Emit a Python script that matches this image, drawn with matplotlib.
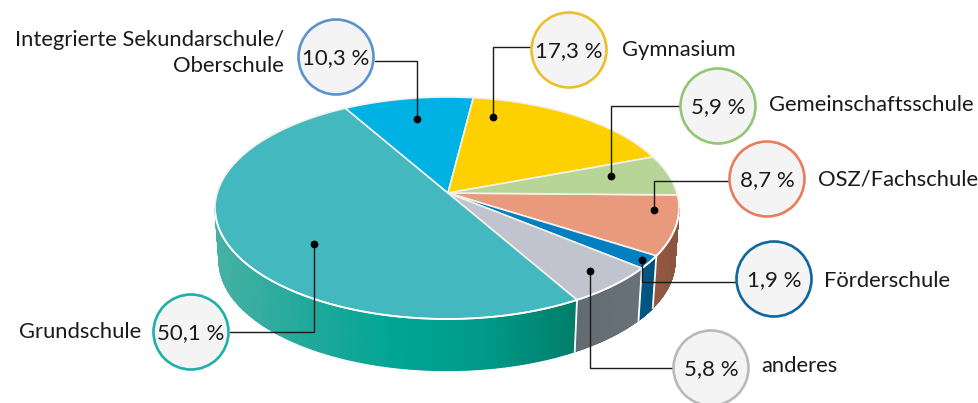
import numpy as np
import matplotlib
matplotlib.use("Agg")
import matplotlib.pyplot as plt
from matplotlib.colors import LinearSegmentedColormap
from matplotlib.patches import Circle, Polygon

plt.rcParams["font.family"] = ["Lato", "DejaVu Sans"]

# ── Data (clockwise on screen, starting at the Gemeinschaftsschule/OSZ edge) ──
categories = ["OSZ/Fachschule", "Förderschule", "anderes", "Grundschule",
              "Integrierte Sekundarschule/\nOberschule", "Gymnasium", "Gemeinschaftsschule"]
values = [8.7, 1.9, 5.8, 50.1, 10.3, 17.3, 5.9]
value_labels = ["8,7 %", "1,9 %", "5,8 %", "50,1 %", "10,3 %", "17,3 %", "5,9 %"]

top_colours = ["#ea9a7c", "#0080c2", "#c1c4cf", "#44b8bf", "#00b1e4", "#fdd000", "#b6d596"]
# side wall colours run left to right on screen
side_colours = [["#99593f", "#8b5442"], ["#005a85", "#00527a"], ["#626b72", "#6a7279"],
                ["#48b1a6", "#22a99b", "#00a595", "#009a88", "#007e6a"],
                ["#00b1e4"], ["#fdd000"], ["#b6d596"]]
ring_colours = ["#ea7b5b", "#0f66a0", "#b9b9b9", "#1fb0a8", "#5b94cc", "#e9c02c", "#93c572"]

# ── Layout, all in image pixels ───────────────────────────────────────────────
W, H = 979, 403
START = 1.0             # degrees
CX, CY, RX, RY = 447, 208, 232, 111   # top ellipse
BCX, BCY, BRX, BRY = 447, 261, 228, 109.6   # bottom ellipse
SHIFT = -0.135          # apex sits above the ellipse centre (perspective)
R_RING = 37.5
LABEL_SIZE = 15.8

# circle centre, label x, label y, label align, leader points
callouts = [
    ((767, 179), 818, 180, "left", [(729, 181), (654, 181), (654, 210)]),
    ((774, 279), 824, 281, "left", [(736, 282), (642, 282), (642, 260)]),
    ((711, 368), 761, 366, "left", [(673, 368), (590, 368), (590, 271)]),
    ((191, 332), 141, 332, "right", [(230, 332), (314, 332), (314, 244)]),
    ((336, 57), 284, 53, "right", [(375, 61), (417, 61), (417, 119)]),
    ((569, 50), 622, 50, "left", [(531, 47), (493, 47), (493, 117)]),
    ((718, 106), 769, 105, "left", [(680, 106), (611, 106), (611, 176)]),
]


def disk_phi(t):
    # circle angle -> ellipse angle under a projective shift of the disk
    x, y = np.cos(t), np.sin(t)
    d = 1 + SHIFT * y
    return np.arctan2((y + SHIFT) / d, x * np.sqrt(1 - SHIFT ** 2) / d)


fig = plt.figure(figsize=(W / 100, H / 100), dpi=100)
ax = fig.add_axes([0, 0, 1, 1])
ax.set_xlim(0, W)
ax.set_ylim(H, 0)
ax.axis("off")

edges = np.radians(START + np.concatenate([[0], np.cumsum(values)]) * 3.6)
apex = (448, 193)

# ── Side wall ─────────────────────────────────────────────────────────────────
for i in range(len(values)):
    t = np.linspace(edges[i], edges[i + 1], 300)
    phi = np.unwrap(disk_phi(t))
    keep = (phi >= 0) & (phi <= np.pi)
    if keep.sum() < 2:
        continue
    p = np.linspace(phi[keep][0], phi[keep][-1], 160)
    X = np.vstack([CX + RX * np.cos(p), BCX + BRX * np.cos(p)])
    Y = np.vstack([CY + RY * np.sin(p), BCY + BRY * np.sin(p)])
    C = (X - X.min()) / (X.max() - X.min())
    colours = side_colours[i] if len(side_colours[i]) > 1 else side_colours[i] * 2
    cmap = LinearSegmentedColormap.from_list(f"side{i}", colours)
    ax.pcolormesh(X, Y, C, cmap=cmap, shading="gouraud", zorder=2, rasterized=True)
    # white seam at the front edge of each wall part
    if i < 3:
        ax.plot([X[0, -1], X[1, -1]], [Y[0, -1], Y[1, -1]], color="white", lw=1.3, zorder=3)

# ── Top face ──────────────────────────────────────────────────────────────────
for i in range(len(values)):
    t = np.linspace(edges[i], edges[i + 1], 200)
    phi = disk_phi(t)
    xs = CX + RX * np.cos(phi)
    ys = CY + RY * np.sin(phi)
    pts = np.column_stack([np.r_[apex[0], xs], np.r_[apex[1], ys]])
    ax.add_patch(Polygon(pts, closed=True, facecolor=top_colours[i], edgecolor="#f4f1ea",
                         linewidth=1.2, joinstyle="round", zorder=4))

# rim highlight along the front edge
p = np.linspace(0.05, np.pi - 0.05, 300)
ax.plot(CX + RX * np.cos(p), CY + RY * np.sin(p), color="white", lw=1.3, zorder=5)

# ── Call-outs ─────────────────────────────────────────────────────────────────
for (centre, lx, ly, ha, path), name, label, ring in zip(callouts, categories, value_labels, ring_colours):
    xs, ys = zip(*path)
    ax.plot(xs, ys, color="#1a1a1a", lw=1.0, zorder=6, solid_joinstyle="miter")
    ax.plot(xs[-1], ys[-1], "o", color="black", ms=5.6, mew=0, zorder=7)
    ax.add_patch(Circle(centre, R_RING, facecolor="#f4f4f4", edgecolor=ring, linewidth=1.9, zorder=8))
    ax.text(centre[0], centre[1] + 1, label, ha="center", va="center", fontsize=LABEL_SIZE + 0.2,
            color="#1a1a1a", zorder=9)
    ax.text(lx, ly, name, ha=ha, va="center", fontsize=LABEL_SIZE, color="#1a1a1a",
            linespacing=1.36, multialignment=ha, zorder=9)

plt.savefig("out.png", dpi=100)
plt.close()
